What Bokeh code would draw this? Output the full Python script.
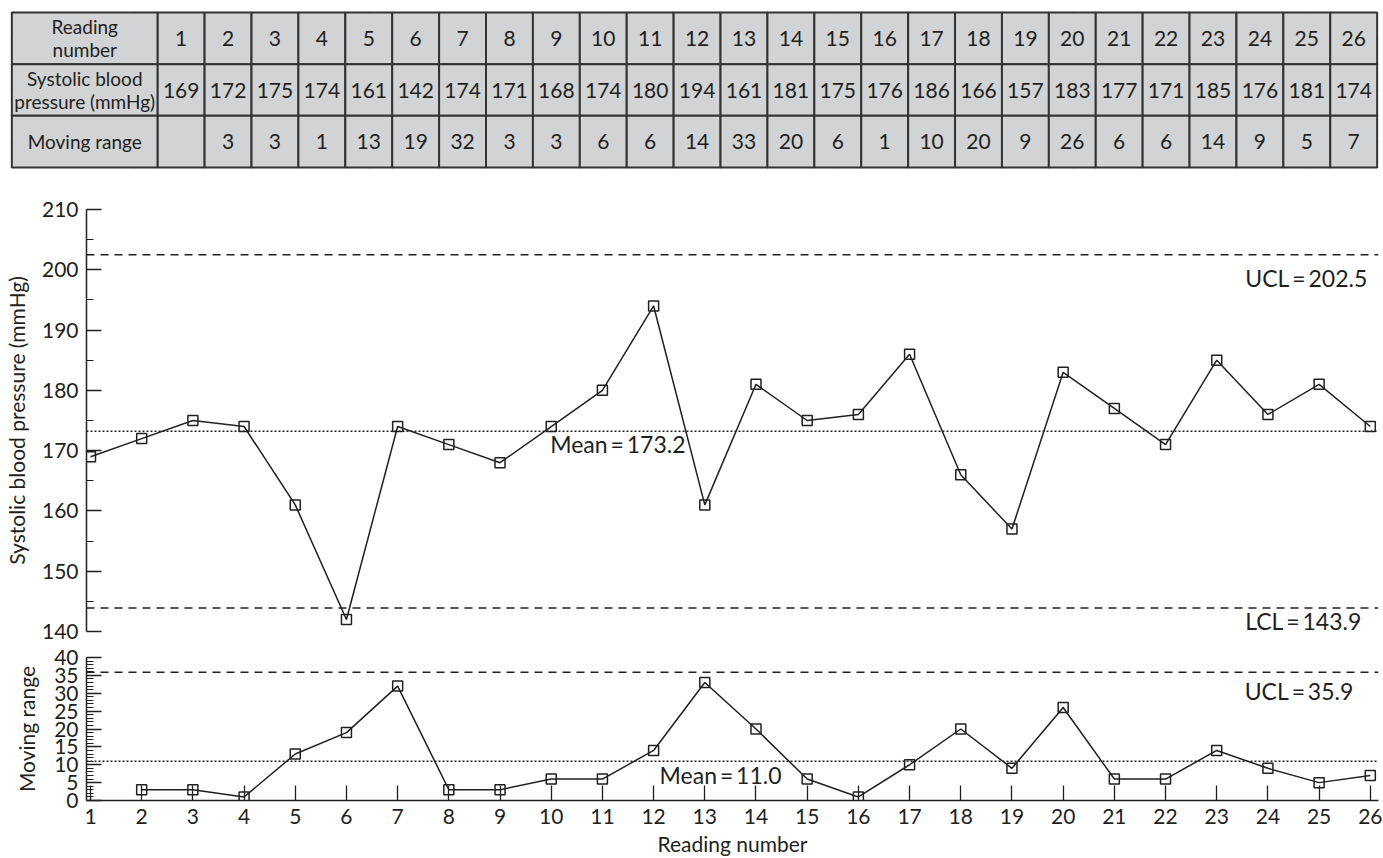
from bokeh.plotting import figure
from bokeh.layouts import column
from bokeh.models import Range1d, FixedTicker, Span, Label, ColumnDataSource
from bokeh.core.properties import value
from bokeh.embed import file_html
from bokeh.resources import INLINE

# ---- data -------------------------------------------------------------
readings = list(range(1, 27))
systolic = [169, 172, 175, 174, 161, 142, 174, 171, 168, 174, 180, 194, 161,
            181, 175, 176, 186, 166, 157, 183, 177, 171, 185, 176, 181, 174]
moving_range = [None, 3, 3, 1, 13, 19, 32, 3, 3, 6, 6, 14, 33,
                20, 6, 1, 10, 20, 9, 26, 6, 6, 14, 9, 5, 7]
row_titles = ["Reading\nnumber", "Systolic blood\npressure (mmHg)", "Moving range"]

sbp_mean, sbp_ucl, sbp_lcl = 173.2, 202.5, 143.9
mr_mean, mr_ucl = 11.0, 35.9

sbp_ticks = [140, 150, 160, 170, 180, 190, 200, 210]
sbp_minor = [145, 155, 165, 175, 185, 195, 205]
mr_ticks = [0, 5, 10, 15, 20, 25, 30, 35, 40]
mr_minor = [v for v in range(0, 41) if v % 5 != 0]

# ---- styling ----------------------------------------------------------
FONT = "Lato"
INK = "#231f20"
CELL = "#d1d3d4"
W = 1383
THIN = "\u2009"


def base_fig(**kw):
    p = figure(width=W, toolbar_location=None, output_backend="svg",
               background_fill_color="white", border_fill_color="white",
               outline_line_color=None, **kw)
    return p


def style_axes(p):
    for ax in p.axis:
        ax.axis_line_color = INK
        ax.axis_line_width = 1.5
        ax.major_tick_line_color = INK
        ax.major_tick_line_width = 1.3
        ax.minor_tick_line_color = INK
        ax.minor_tick_line_width = 1.1
        ax.major_tick_in = 15
        ax.major_tick_out = 0
        ax.minor_tick_in = 7
        ax.minor_tick_out = 0
        ax.major_label_text_font = FONT
        ax.major_label_text_font_size = "21px"
        ax.major_label_text_color = INK
        ax.axis_label_text_font = FONT
        ax.axis_label_text_font_size = "21px"
        ax.axis_label_text_font_style = "normal"
        ax.axis_label_text_color = INK
        ax.major_label_standoff = 8
    p.grid.visible = False


def add_label(p, x, y, text, align, dx, dy, size="23px"):
    # dy: screen distance (px) from the reference line down to the label
    p.add_layout(Label(x=x, y=y, text=text, text_align=align,
                       text_baseline="alphabetic", x_offset=dx, y_offset=-dy,
                       text_font=FONT, text_font_size=size,
                       text_color=INK))


# ---- table ------------------------------------------------------------
hdr_w = 3.11
pad_x, pad_y = 0.05, 0.04
tbl = base_fig(height=175,
               x_range=Range1d(0.5 - hdr_w - pad_x, 26.5 + pad_x),
               y_range=Range1d(3 + pad_y, -pad_y),
               x_axis_location=None, y_axis_location=None,
               min_border_left=9, min_border_right=4,
               min_border_top=10, min_border_bottom=6)
tbl.frame_align = False

sbp_text = [str(v) for v in systolic]
mr_text = ["" if v is None else str(v) for v in moving_range]
row_values = [[str(r) for r in readings], sbp_text, mr_text]

cells = dict(left=[], right=[], top=[], bottom=[])
txt = dict(x=[], y=[], t=[])
for r, title in enumerate(row_titles):
    cells["left"].append(0.5 - hdr_w)
    cells["right"].append(0.5)
    cells["top"].append(r)
    cells["bottom"].append(r + 1)
    for c, s in zip(readings, row_values[r]):
        cells["left"].append(c - 0.5)
        cells["right"].append(c + 0.5)
        cells["top"].append(r)
        cells["bottom"].append(r + 1)
        txt["x"].append(c)
        txt["y"].append(r + 0.5)
        txt["t"].append(s)

tbl.quad(source=ColumnDataSource(cells), left="left", right="right",
         top="top", bottom="bottom", fill_color=CELL,
         line_color="#333333", line_width=2)
tbl.text(source=ColumnDataSource(txt), x="x", y="y", text="t",
         text_align="center", text_baseline="middle",
         text_font=value(FONT), text_font_size="21px", text_color=INK)
tbl.text(x=[0.5 - hdr_w / 2] * 3, y=[0.5, 1.5, 2.5], text=row_titles,
         text_align="center", text_baseline="middle", text_line_height=1.0,
         text_font=value(FONT), text_font_size="19px", text_color=INK)

# ---- individual readings chart -----------------------------------------
xr = Range1d(0.922, 26.16)
top = base_fig(height=470, x_range=xr, y_range=Range1d(140, 210),
               x_axis_location=None,
               min_border_left=86, min_border_right=5,
               min_border_top=34, min_border_bottom=14)
top.yaxis.ticker = FixedTicker(ticks=sbp_ticks, minor_ticks=sbp_minor)
top.yaxis.axis_label = "Systolic blood pressure (mmHg)"
top.yaxis.axis_label_standoff = 10
style_axes(top)

top.add_layout(Span(location=sbp_ucl, dimension="width", line_color=INK,
                    line_width=1.5, line_dash="8 6"))
top.add_layout(Span(location=sbp_lcl, dimension="width", line_color=INK,
                    line_width=1.5, line_dash="8 6"))
top.add_layout(Span(location=sbp_mean, dimension="width", line_color=INK,
                    line_width=1.5, line_dash="2 2"))

top.line(readings, systolic, line_color=INK, line_width=1.5)
top.scatter(readings, systolic, marker="square", size=10, fill_color=None,
            line_color=INK, line_width=1.5)

add_label(top, 26, sbp_ucl, f"UCL{THIN}={THIN}{sbp_ucl}", "right", -3, 23)
add_label(top, 26, sbp_lcl, f"LCL{THIN}={THIN}{sbp_lcl}", "right", -9, 13.5)
add_label(top, 10, sbp_mean, f"Mean{THIN}={THIN}{sbp_mean}", "left", -1, 12.5)

# ---- moving range chart -------------------------------------------------
mr = base_fig(height=213, x_range=xr, y_range=Range1d(0, 40),
              min_border_left=86, min_border_right=5,
              min_border_top=12, min_border_bottom=56)
mr.yaxis.ticker = FixedTicker(ticks=mr_ticks, minor_ticks=mr_minor)
mr.xaxis.ticker = FixedTicker(ticks=readings)
mr.yaxis.axis_label = "Moving range"
mr.xaxis.axis_label = "Reading number"
mr.yaxis.axis_label_standoff = 12
mr.xaxis.axis_label_standoff = 4
style_axes(mr)
mr.xaxis.minor_tick_line_color = None

mr.add_layout(Span(location=mr_ucl, dimension="width", line_color=INK,
                   line_width=1.5, line_dash="8 6"))
mr.add_layout(Span(location=mr_mean, dimension="width", line_color=INK,
                   line_width=1.5, line_dash="2 2"))

mr_x = [r for r, v in zip(readings, moving_range) if v is not None]
mr_y = [v for v in moving_range if v is not None]
mr.line(mr_x, mr_y, line_color=INK, line_width=1.5)
mr.scatter(mr_x, mr_y, marker="square", size=10, fill_color=None,
           line_color=INK, line_width=1.5)

add_label(mr, 26, mr_ucl, f"UCL{THIN}={THIN}{mr_ucl}", "right", -17, 19)
add_label(mr, 12, mr_mean, f"Mean{THIN}={THIN}{mr_mean:.1f}", "left", 6, 14)

layout = column(tbl, top, mr, spacing=0)
open("out.html", "w").write(file_html(layout, INLINE))
